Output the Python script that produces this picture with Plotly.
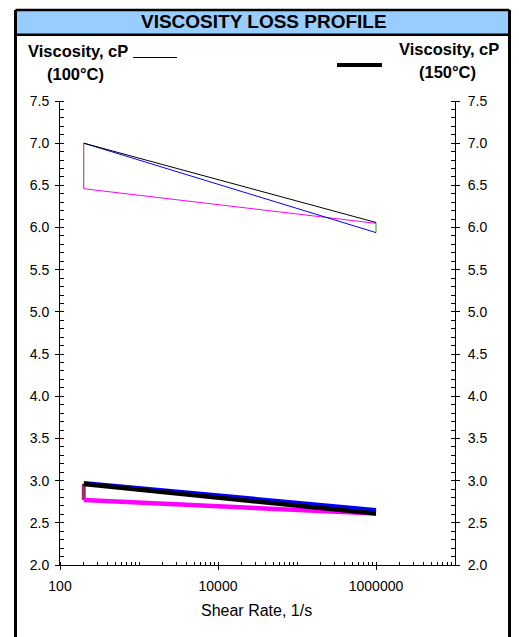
import plotly.graph_objects as go

# ---------------- data ----------------
shear_rate = [200, 1000000]
visc100_black = [7.00, 6.06]
visc100_blue = [7.00, 5.94]
visc100_magenta = [6.46, 6.05]
visc150_black = [2.96, 2.61]
visc150_blue = [2.97, 2.65]
visc150_magenta = [2.77, 2.61]
# connector segments (vertical drops at a single shear rate)
conn100_left_x = [200, 200]
conn100_left_y = [7.00, 6.46]
conn100_right_x = [1000000, 1000000]
conn100_right_y = [6.06, 5.94]
conn150_left_x = [200, 200]
conn150_left_y = [2.96, 2.77]

x_tickvals = [100, 10000, 1000000]
x_ticktext = ["100", "10000", "1000000"]

FONT = "Liberation Sans, Arial, sans-serif"

# page offset (body margin) and plot area in screen pixels
OFF = 8
W, H = 519 - 2 * OFF, 637 - OFF
L, R, T, B = 60, 455, 101, 565


def px(x):
    return (x - L) / (R - L)


def py(y):
    return (B - y) / (B - T)


fig = go.Figure()

# upper (100 °C) thin lines
fig.add_trace(go.Scatter(x=conn100_left_x, y=conn100_left_y, mode="lines",
                         line=dict(color="#993366", width=1), showlegend=False))
fig.add_trace(go.Scatter(x=conn100_right_x, y=conn100_right_y, mode="lines",
                         line=dict(color="#22A022", width=1), showlegend=False))
fig.add_trace(go.Scatter(x=shear_rate, y=visc100_magenta, mode="lines",
                         line=dict(color="#FF00FF", width=1), showlegend=False))
fig.add_trace(go.Scatter(x=shear_rate, y=visc100_blue, mode="lines",
                         line=dict(color="#0000FF", width=1), showlegend=False))
fig.add_trace(go.Scatter(x=shear_rate, y=visc100_black, mode="lines",
                         line=dict(color="#000000", width=1), showlegend=False))

# lower (150 °C) thick lines on right axis
fig.add_trace(go.Scatter(x=conn150_left_x, y=conn150_left_y, mode="lines", yaxis="y2",
                         line=dict(color="#993366", width=4), showlegend=False))
fig.add_trace(go.Scatter(x=shear_rate, y=visc150_magenta, mode="lines", yaxis="y2",
                         line=dict(color="#FF00FF", width=4.5), showlegend=False))
fig.add_trace(go.Scatter(x=shear_rate, y=visc150_blue, mode="lines", yaxis="y2",
                         line=dict(color="#0000FF", width=4.5), showlegend=False))
fig.add_trace(go.Scatter(x=shear_rate, y=visc150_black, mode="lines", yaxis="y2",
                         line=dict(color="#000000", width=4.5), showlegend=False))

tickfont = dict(family=FONT, size=14, color="#000000")
yr = [2.0, 7.5]
xr = [2, 7]

yaxis_common = dict(range=yr, dtick=0.5, tick0=2.0, tickformat=".1f", showgrid=False,
                    zeroline=False, showline=True, linecolor="#000000", linewidth=1,
                    ticks="outside", ticklen=4, tickcolor="#000000", tickwidth=1,
                    tickfont=tickfont, fixedrange=True,
                    minor=dict(ticks="inside", dtick=0.1, ticklen=4, tickcolor="#000000",
                               tickwidth=1, showgrid=False))

fig.update_layout(
    width=W, height=H,
    margin=dict(l=L - OFF, r=W - (R - OFF), t=T - OFF, b=H - (B - OFF)),
    paper_bgcolor="#FFFFFF", plot_bgcolor="#FFFFFF",
    showlegend=False,
    xaxis=dict(type="log", range=xr, tickmode="array", tickvals=x_tickvals,
               ticktext=x_ticktext, showgrid=False, zeroline=False, showline=True,
               linecolor="#000000", linewidth=1, ticks="outside", ticklen=4,
               tickcolor="#000000", tickfont=tickfont, ticklabelstandoff=4,
               minor=dict(ticks="inside", dtick="D1", ticklen=3, tickcolor="#000000",
                          showgrid=False)),
    xaxis2=dict(type="log", range=xr, overlaying="x", anchor="y", side="bottom",
                tickmode="array", tickvals=x_tickvals, showticklabels=False,
                showgrid=False, zeroline=False, showline=False, ticks="inside",
                ticklen=4, tickcolor="#000000"),
    yaxis=dict(side="left", ticklabelstandoff=3, **yaxis_common),
    yaxis2=dict(side="right", overlaying="y", anchor="x", ticklabelstandoff=5,
                **yaxis_common),
    yaxis3=dict(range=yr, dtick=0.5, tick0=2.0, overlaying="y", side="left", anchor="x",
                showticklabels=False, showgrid=False, zeroline=False, showline=False,
                ticks="inside", ticklen=4, tickcolor="#000000"),
    yaxis4=dict(range=yr, dtick=0.5, tick0=2.0, overlaying="y", side="right", anchor="x",
                showticklabels=False, showgrid=False, zeroline=False, showline=False,
                ticks="inside", ticklen=4, tickcolor="#000000"),
)

# frame and title bar
frame_left, frame_right = 15.5, 509.5
shapes = [
    dict(type="rect", xref="paper", yref="paper", x0=px(frame_left), x1=px(frame_right),
         y0=py(10), y1=py(34.7), fillcolor="#99CCFF", line=dict(width=0), layer="below"),
    dict(type="line", xref="paper", yref="paper", x0=px(frame_left), x1=px(frame_left),
         y0=py(660), y1=py(10), line=dict(color="#000000", width=3)),
    dict(type="line", xref="paper", yref="paper", x0=px(frame_right), x1=px(frame_right),
         y0=py(660), y1=py(10), line=dict(color="#000000", width=3)),
    dict(type="line", xref="paper", yref="paper", x0=px(frame_left), x1=px(frame_right),
         y0=py(10), y1=py(10), line=dict(color="#000000", width=2.5)),
    dict(type="line", xref="paper", yref="paper", x0=px(frame_left), x1=px(frame_right),
         y0=py(34.7), y1=py(34.7), line=dict(color="#000000", width=2.5)),
    # legend swatches
    dict(type="line", xref="paper", yref="paper", x0=px(133), x1=px(177),
         y0=py(57.5), y1=py(57.5), line=dict(color="#000000", width=1)),
    dict(type="line", xref="paper", yref="paper", x0=px(337), x1=px(382),
         y0=py(65), y1=py(65), line=dict(color="#000000", width=4)),
]
fig.update_layout(shapes=shapes)

bold = dict(family=FONT, size=16.5, color="#000000")
annotations = [
    dict(text="<b>VISCOSITY LOSS PROFILE</b>", x=px(264), y=py(22), xref="paper", yref="paper",
         showarrow=False, xanchor="center", yanchor="middle",
         font=dict(family=FONT, size=19, color="#000000")),
    dict(text="<b>Viscosity, cP</b>", x=px(26), y=py(51), xref="paper", yref="paper",
         showarrow=False, xanchor="left", yanchor="middle", font=bold),
    dict(text="<b>(100°C)</b>", x=px(75), y=py(74), xref="paper", yref="paper",
         showarrow=False, xanchor="center", yanchor="middle", font=bold),
    dict(text="<b>Viscosity, cP</b>", x=px(501), y=py(49), xref="paper", yref="paper",
         showarrow=False, xanchor="right", yanchor="middle", font=bold),
    dict(text="<b>(150°C)</b>", x=px(447), y=py(72), xref="paper", yref="paper",
         showarrow=False, xanchor="center", yanchor="middle", font=bold),
    dict(text="Shear Rate, 1/s", x=px(256), y=py(610), xref="paper", yref="paper",
         showarrow=False, xanchor="center", yanchor="middle",
         font=dict(family=FONT, size=16, color="#000000")),
]
fig.update_layout(annotations=annotations)

fig.write_html("out.html")
